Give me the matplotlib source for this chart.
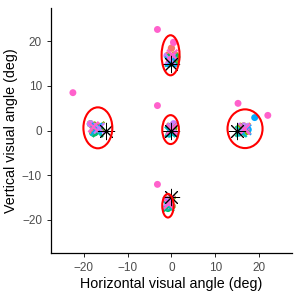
import numpy as np
import matplotlib
matplotlib.use("Agg")
from matplotlib import pyplot as plt
from matplotlib.patches import Ellipse

plt.rcParams['font.family'] = ['Liberation Sans', 'DejaVu Sans']

# subject colours (ggplot hue palette)
subj_colors = ["#F8766D", "#CD9600", "#7CAE00", "#00BE67",
               "#00BFC4", "#00A9FF", "#C77CFF", "#FF61CC"]

# target positions (deg)
target_x = [-15, 0, 0, 0, 15]
target_y = [0, 15, 0, -15, 0]

# per-subject gaze points at each target (rows: targets, cols: subjects)
gaze_x = [[-18.0, -17.0, -18.5, -17.5, -18.0, -17.5, -18.5, -17.0],
          [0.0, 0.8, 1.0, 1.2, -0.5, 0.0, -1.0, 0.5],
          [0.3, 0.0, 0.5, -0.3, -0.5, 0.0, 0.5, -0.2],
          [-0.5, -0.8, -0.5, -0.8, -1.0, -0.5, -1.0, -0.8],
          [17.0, 16.5, 16.0, 15.5, 15.5, 17.5, 16.5, 17.0]]
gaze_y = [[1.0, 0.0, 1.5, -0.5, -0.5, 0.5, 1.5, 0.5],
          [18.5, 17.0, 16.0, 16.5, 15.0, 15.2, 16.8, 19.8],
          [0.0, 1.0, 0.5, -0.5, -0.8, 0.0, 1.5, 0.3],
          [-16.5, -15.5, -16.0, -17.5, -17.2, -16.2, -15.5, -16.8],
          [0.5, 1.0, 0.0, -0.5, -0.5, 0.2, 1.0, 0.3]]

# per-subject mean markers (x) at each target
mean_x = [[-17.5, -17.0, -16.5, -16.8, -17.2, -17.0, -16.5, -17.8],
          [0.0, 0.5, 0.5, 0.3, -0.3, 0.0, -0.3, 0.2],
          [0.0, 0.2, 0.3, -0.2, -0.3, 0.0, 0.3, 0.0],
          [-0.5, -0.3, -0.3, -0.6, -0.8, -0.5, -0.5, -0.6],
          [16.5, 16.8, 16.2, 15.8, 16.0, 17.0, 16.5, 16.8]]
mean_y = [[0.5, 0.0, 0.8, -0.3, 0.0, 0.5, 0.5, 0.8],
          [16.5, 16.0, 15.5, 16.0, 15.5, 15.5, 16.0, 17.0],
          [0.2, 0.5, 0.3, -0.2, -0.3, 0.0, 0.5, 0.2],
          [-16.5, -15.8, -16.2, -17.0, -16.8, -16.0, -15.8, -16.5],
          [0.3, 0.5, 0.2, -0.2, -0.3, 0.2, 0.5, 0.3]]

# outlying gaze points (subject index, x, y)
out_subj = [7, 7, 7, 7, 7, 7, 5]
out_x = [-22.5, -3.2, -3.2, -3.2, 15.2, 22.0, 19.0]
out_y = [8.5, 22.7, 5.6, -12.1, 6.1, 3.4, 2.9]

# 95% ellipses: centre, width, height
ell_x = [-16.8, -0.2, -0.2, -0.8, 16.8]
ell_y = [0.6, 16.9, 0.2, -16.9, 0.4]
ell_w = [6.6, 4.1, 3.8, 2.6, 8.0]
ell_h = [9.2, 9.0, 6.5, 5.3, 8.7]

fig = plt.figure(figsize=(3, 3), dpi=100)
ax = fig.add_axes([0.17, 0.157, 0.803, 0.816])

for t in range(len(target_x)):
    ax.scatter(gaze_x[t], gaze_y[t], c=subj_colors, s=28, edgecolors='none', zorder=2)
for t in range(len(target_x)):
    ax.scatter(mean_x[t], mean_y[t], c=subj_colors, marker='x', s=55,
               linewidths=1.6, zorder=3)
ax.scatter(out_x, out_y, c=[subj_colors[i] for i in out_subj], s=25,
           edgecolors='none', zorder=2)

ax.scatter(target_x, target_y, c='black', marker=(8, 2, 0), s=140,
           linewidths=0.7, zorder=4)

for cx, cy, w, h in zip(ell_x, ell_y, ell_w, ell_h):
    ax.add_patch(Ellipse((cx, cy), w, h, fill=False, edgecolor='red', lw=1.5, zorder=5))

ax.set_xlim(-27.5, 27.5)
ax.set_ylim(-27.5, 27.5)
ax.set_xticks([-20, -10, 0, 10, 20])
ax.set_yticks([-20, -10, 0, 10, 20])
ax.tick_params(labelsize=8.5, labelcolor='#4D4D4D', length=3, width=0.6)
for s in ['top', 'right']:
    ax.spines[s].set_visible(False)
for s in ['left', 'bottom']:
    ax.spines[s].set_linewidth(0.9)
ax.set_xlabel("Horizontal visual angle (deg)", fontsize=10.3, labelpad=2)
ax.set_ylabel("Vertical visual angle (deg)", fontsize=10.3, labelpad=3)

fig.savefig("out.png", dpi=100)
